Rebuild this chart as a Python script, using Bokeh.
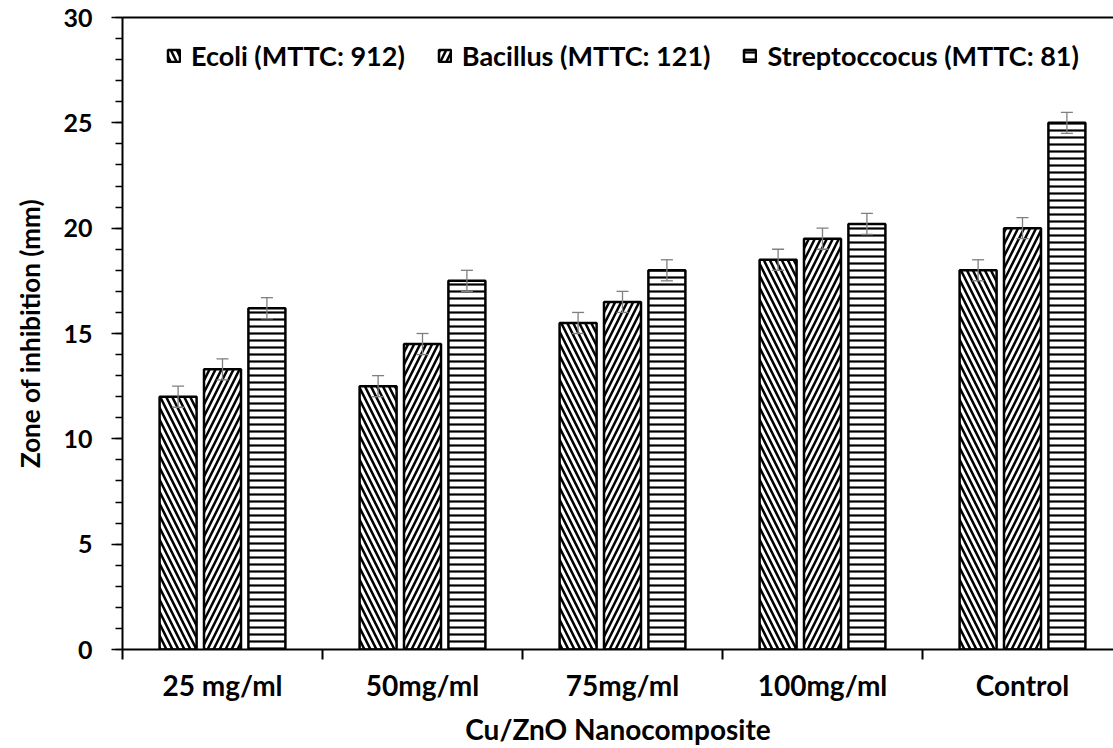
from bokeh.plotting import figure
from bokeh.models import (FixedTicker, LinearAxis, Range1d, ColumnDataSource,
                          Whisker, TeeHead)
from bokeh.embed import file_html
from bokeh.resources import INLINE

# ---- data ----
categories = ["25 mg/ml", "50mg/ml", "75mg/ml", "100mg/ml", "Control"]
series_names = ["Ecoli (MTTC: 912)", "Bacillus (MTTC: 121)", "Streptoccocus (MTTC: 81)"]
ecoli = [12.0, 12.5, 15.5, 18.5, 18.0]
bacillus = [13.3, 14.5, 16.5, 19.5, 20.0]
strep = [16.2, 17.5, 18.0, 20.2, 25.0]
ecoli_err = [0.5, 0.5, 0.5, 0.5, 0.5]
bacillus_err = [0.5, 0.5, 0.5, 0.5, 0.5]
strep_err = [0.5, 0.5, 0.5, 0.5, 0.5]
y_ticks = [0, 5, 10, 15, 20, 25, 30]

FONT = "Lato"

W, H = 1113, 748
left, top, bottom = 122, 17, 99
cat_px = 200
frame_w = W - left
p = figure(width=W, height=H, output_backend="svg", toolbar_location=None,
           x_range=Range1d(0, frame_w / cat_px), y_range=Range1d(0, 30),
           min_border_left=left, min_border_right=0, min_border_top=top,
           min_border_bottom=bottom)
p.xgrid.grid_line_color = None
p.ygrid.grid_line_color = None
p.outline_line_color = None
p.background_fill_color = "white"
p.border_fill_color = "white"

offsets = [0.278, 0.5, 0.722]
bar_w = 0.185
hatches = ["\\", "/", "-"]
scales = [12, 12, 7]
weights = [2.5, 2.5, 2.2]
all_vals = [ecoli, bacillus, strep]
all_errs = [ecoli_err, bacillus_err, strep_err]

for k in range(3):
    xs = [i + offsets[k] for i in range(len(categories))]
    vals = all_vals[k]
    errs = all_errs[k]
    src = ColumnDataSource(dict(x=xs, top=vals,
                                upper=[v + e for v, e in zip(vals, errs)],
                                lower=[v - e for v, e in zip(vals, errs)]))
    p.vbar(x="x", top="top", bottom=0, width=bar_w, source=src,
           fill_color="white", line_color="black", line_width=2.5,
           hatch_pattern=hatches[k], hatch_color="black",
           hatch_weight=weights[k], hatch_scale=scales[k],
           legend_label=series_names[k])
    wh = Whisker(base="x", upper="upper", lower="lower", source=src,
                 line_color="#7f7f7f", line_width=1.3,
                 upper_head=TeeHead(size=12, line_color="#7f7f7f", line_width=1.3),
                 lower_head=TeeHead(size=12, line_color="#7f7f7f", line_width=1.3))
    wh.level = "overlay"
    p.add_layout(wh)

# x axis: labels at centres, ticks at category boundaries
xa = p.xaxis[0]
xa.ticker = FixedTicker(ticks=[i + 0.5 for i in range(len(categories))],
                        minor_ticks=list(range(len(categories) + 1)))
xa.major_label_overrides = {i + 0.5: c for i, c in enumerate(categories)}
xa.major_tick_out = 0
xa.major_tick_in = 0
xa.minor_tick_out = 10
xa.minor_tick_in = 0
xa.minor_tick_line_width = 2
xa.minor_tick_line_color = "black"
xa.axis_line_width = 2
xa.axis_line_color = "black"
xa.major_label_standoff = 8
xa.major_label_text_font = FONT
xa.major_label_text_font_size = "28px"
xa.major_label_text_font_style = "bold"
xa.major_label_text_color = "black"
xa.axis_label = "Cu/ZnO Nanocomposite"
xa.axis_label_text_font = FONT
xa.axis_label_text_font_size = "28px"
xa.axis_label_text_font_style = "bold"
xa.axis_label_text_color = "black"
xa.axis_label_standoff = 7

ya = p.yaxis[0]
ya.ticker = FixedTicker(ticks=y_ticks, minor_ticks=list(range(0, 31)))
ya.major_tick_out = 11
ya.major_tick_in = 0
ya.minor_tick_out = 7
ya.minor_tick_in = 0
ya.major_tick_line_width = 1.5
ya.minor_tick_line_width = 1.5
ya.major_tick_line_color = "black"
ya.minor_tick_line_color = "black"
ya.axis_line_width = 2
ya.axis_line_color = "black"
ya.major_label_standoff = 19
ya.major_label_text_font = FONT
ya.major_label_text_font_size = "25px"
ya.major_label_text_font_style = "bold"
ya.major_label_text_color = "black"
ya.axis_label = "Zone of inhibition (mm)"
ya.axis_label_text_font = FONT
ya.axis_label_text_font_size = "26px"
ya.axis_label_text_font_style = "bold"
ya.axis_label_text_color = "black"
ya.axis_label_standoff = 14

# top border line
top_axis = LinearAxis(ticker=FixedTicker(ticks=[]), axis_line_width=2,
                      axis_line_color="black", major_tick_out=0, minor_tick_out=0)
p.add_layout(top_axis, "above")

lg = p.legend[0]
lg.orientation = "horizontal"
lg.location = (44, 577)
lg.label_text_font = FONT
lg.label_text_font_size = "27px"
lg.label_text_font_style = "bold"
lg.label_text_color = "black"
lg.glyph_width = 15
lg.glyph_height = 15
lg.label_standoff = 10
lg.spacing = 32
lg.padding = 0
lg.margin = 0
lg.border_line_alpha = 0
lg.background_fill_alpha = 0

open("out.html", "w").write(file_html(p, INLINE))
